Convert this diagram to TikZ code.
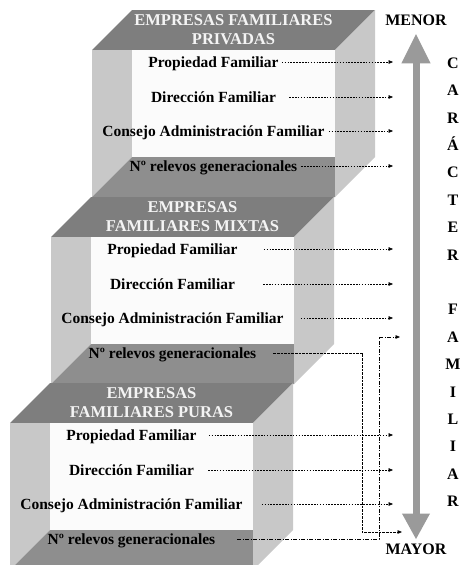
\documentclass[tikz,border=0pt]{standalone}
\usepackage{fontspec}
\setmainfont{Liberation Serif}
\usetikzlibrary{arrows.meta}
\definecolor{topc}{HTML}{7E7E7E}
\definecolor{sidec}{HTML}{C8C8C8}
\definecolor{bandc}{HTML}{8E8E8E}
\definecolor{panelc}{HTML}{FBFBFB}
\definecolor{titlec}{HTML}{F4F4F4}
\definecolor{bigarrowc}{HTML}{9A9A9A}
\newcommand\FamBox[5]{%
 \begin{scope}[shift={(#1,#2)}]
  \fill[topc] (40,0) -- (283,0) -- (243,40) -- (0,40) -- cycle;
  \fill[sidec] (0,40) -- (40,40) -- (40,147) -- (0,187) -- cycle;
  \fill[panelc] (40,40) rectangle (243,147);
  \fill[bandc] (40,147) -- (243,147) -- (243,187) -- (0,187) -- cycle;
  \fill[sidec] (243,40) -- (283,0) -- (283,147) -- (243,187) -- cycle;
  \node[ttl] (#3t1) at (141.5,10) {#4};
  \node[ttl] (#3t2) at (141.5,29) {#5};
  \node[txt] (#3p) at (121.5,52) {Propiedad Familiar};
  \node[txt] (#3d) at (121.5,87) {Dirección Familiar};
  \node[txt] (#3c) at (121.5,121) {Consejo Administración Familiar};
  \node[txt] (#3n) at (121.5,156) {Nº relevos generacionales};
 \end{scope}}
\begin{document}
\begin{tikzpicture}[x=1pt,y=-1pt,
  txt/.style={font=\bfseries\fontsize{15.5}{18}\selectfont, inner sep=0pt, text height=10pt, text depth=0pt},
  ttl/.style={font=\bfseries\fontsize{16.5}{19}\selectfont, inner sep=0pt, text height=10.5pt, text depth=0pt, text=titlec},
  lbl/.style={font=\bfseries\fontsize{16}{19}\selectfont, inner sep=0pt, text height=10.5pt, text depth=0pt},
  vlet/.style={font=\bfseries\fontsize{16}{18}\selectfont, inner sep=0pt, text height=10.5pt, text depth=0pt},
  dl/.style={dash pattern=on 1.6pt off 1.3pt, line width=0.55pt, -{Triangle[length=4.5pt,width=3.6pt]}},
  dlb/.style={dash pattern=on 2.6pt off 1pt, line width=0.75pt, -{Triangle[length=4.5pt,width=3.6pt]}},
  dld/.style={dash pattern=on 4pt off 1.5pt on 1pt off 1.5pt, line width=0.7pt, -{Triangle[length=4.5pt,width=3.6pt]}},
  bigarrow/.style={line width=7pt, draw=bigarrowc, {Triangle[length=30pt,width=27pt]}-{Triangle[length=26pt,width=26pt]}}
  ]
\useasboundingbox (0,0) rectangle (471,565);
\clip (0,0) rectangle (471,565);

\FamBox{92}{10}{a}{EMPRESAS FAMILIARES}{PRIVADAS}
\FamBox{51}{197}{b}{EMPRESAS}{FAMILIARES MIXTAS}
\FamBox{10}{383}{c}{EMPRESAS}{FAMILIARES PURAS}

% arrow end x
\coordinate (xend) at (393,0);
% box 1
\draw[dl, shorten <=3pt] (ap.east) -- (ap.east -| xend);
\draw[dl, shorten <=13pt] (ad.east) -- (ad.east -| xend);
\draw[dl, shorten <=4pt] (ac.east) -- (ac.east -| xend);
\draw[dl, shorten <=4pt] (an.east) -- (an.east -| xend);
% box 2
\draw[dl, shorten <=26pt] (bp.east) -- (bp.east -| xend);
\draw[dl, shorten <=28pt] (bd.east) -- (bd.east -| xend);
\draw[dl, shorten <=17pt] (bc.east) -- (bc.east -| xend);
\coordinate (bturn) at (362,0);
\coordinate (bend) at (402,532);
\draw[dlb, shorten <=17pt] (bn.east) -- (bn.east -| bturn) |- (bend);
% box 3
\draw[dl, shorten <=12pt] (cp.east) -- (cp.east -| xend);
\draw[dl, shorten <=14pt] (cd.east) -- (cd.east -| xend);
\draw[dl, shorten <=19pt] (cc.east) -- (cc.east -| xend);
\coordinate (cturn) at (379,0);
\coordinate (cend) at (400,337);
\draw[dld, shorten <=22pt] (cn.east) -- (cn.east -| cturn) |- (cend);

% big arrow
\node[lbl] (menor) at (416,20) {MENOR};
\node[lbl] (mayor) at (416,549) {MAYOR};
\draw[bigarrow, shorten <=8pt, shorten >=4pt] (menor) -- (mayor);

% vertical letters
\foreach \l [count=\k from 0] in {C,A,R,Á,C,T,E,R,{},F,A,M,I,L,I,A,R}{
  \node[vlet] (v\k) at (453,{63+27.4*\k}) {\l};
}
\end{tikzpicture}
\end{document}
